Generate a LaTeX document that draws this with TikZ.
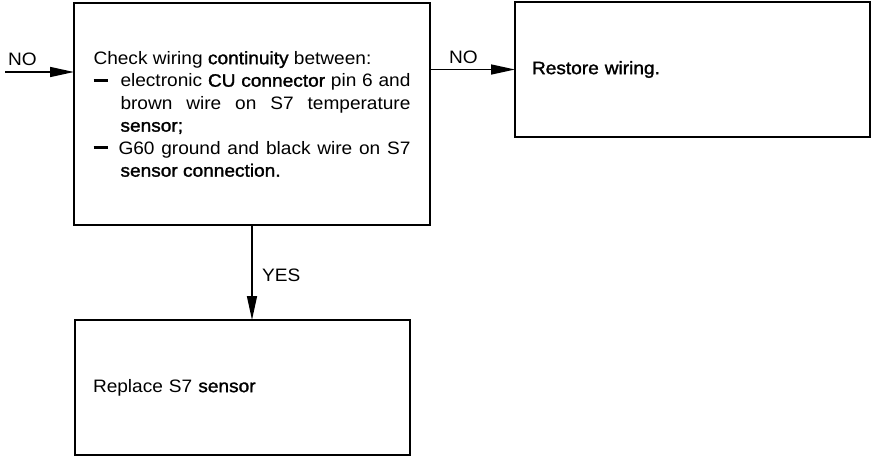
\documentclass[tikz,border=0pt]{standalone}
\usepackage{fontspec}
\setmainfont{Liberation Sans}[FakeStretch=1.06]
\newfontfamily\medfont{Liberation Sans}[FakeStretch=1.06,FakeBold=1.5]
\usetikzlibrary{arrows.meta}
\newcommand\bld[1]{{\medfont #1}}
\newcommand\hdash{\rule[5pt]{14pt}{2.8pt}}
\begin{document}
\begin{tikzpicture}[x=1pt,y=-1pt,
  every node/.style={font=\fontsize{18}{22.5}\selectfont},
  box/.style={draw,line width=2.6pt,anchor=north west,outer sep=0pt,inner ysep=0pt},
  arr/.style={line width=1.5pt,-{Triangle[length=24pt,width=10pt]}},
  lbl/.style={anchor=base west,inner sep=0pt}]
\useasboundingbox (0,0) rectangle (871,456);

\node[box,minimum width=356pt,minimum height=222pt,text width=317pt,inner xsep=19.5pt,align=justify] (check) at (74,3)
{\noindent Check wiring \bld{continuity} between:\par
\hangindent=27pt\hangafter=1\noindent\makebox[27pt][l]{\hdash}electronic \bld{CU connector} pin 6 and\linebreak brown wire on S7 temperature\linebreak \bld{sensor;}\par
\hangindent=27pt\hangafter=1\noindent\makebox[25pt][l]{\hdash}G60 ground and black wire on S7\linebreak \bld{sensor connection.}\par};

\node[box,minimum width=355pt,minimum height=135pt,text width=321pt,inner xsep=17pt,align=left] (restore) at (515,2)
{\bld{Restore wiring.}};

\node[box,minimum width=335pt,minimum height=135pt,text width=299pt,inner xsep=18pt,align=left] (replace) at (75,320)
{Replace S7 \bld{sensor}};

\coordinate (nostart) at (5,72);
\draw[arr] (nostart) -- (nostart -| check.west);
\node[lbl] (nol) at (8,65) {NO};

\draw[arr] (restore.west -| check.east) -- (restore.west);
\node[lbl] (nor) at (449,63) {NO};

\draw[arr] (check.south) -- (check.south |- replace.north);
\node[lbl] (yes) at (262,281) {YES};
\end{tikzpicture}
\end{document}
